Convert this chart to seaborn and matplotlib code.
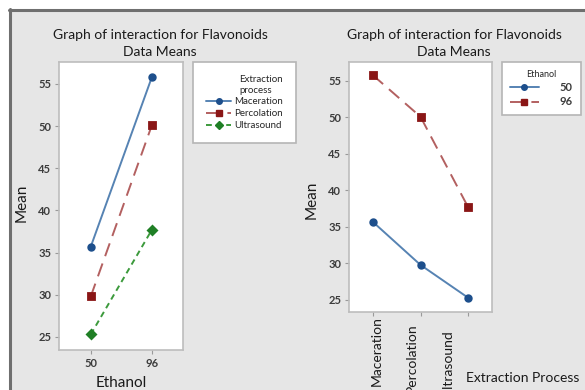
import matplotlib
matplotlib.use("Agg")
import matplotlib.pyplot as plt
import matplotlib.lines as mlines
import matplotlib.transforms as mtransforms
import numpy as np
import pandas as pd
import seaborn as sns

# Data means for flavonoids
ethanol_levels = ["50", "96"]
processes = ["Maceration", "Percolation", "Ultrasound"]
mean_50 = [35.7, 29.8, 25.3]
mean_96 = [55.8, 50.1, 37.7]
y_ticks = [25, 30, 35, 40, 45, 50, 55]

rows = []
for i, p in enumerate(processes):
    rows.append({"Ethanol": "50", "Process": p, "Mean": mean_50[i]})
    rows.append({"Ethanol": "96", "Process": p, "Mean": mean_96[i]})
df = pd.DataFrame(rows)

sns.set_theme(style="white")
plt.rcParams["font.family"] = ["Lato", "DejaVu Sans"]

proc_line = {"Maceration": "#5683b3", "Percolation": "#b36060", "Ultrasound": "#3c9a3c"}
proc_mark = {"Maceration": "#1d4f8c", "Percolation": "#8a1616", "Ultrasound": "#1f7f25"}
proc_style = {"Maceration": "-", "Percolation": (0, (7, 4)), "Ultrasound": (0, (3, 2.2))}
proc_marker = {"Maceration": "o", "Percolation": "s", "Ultrasound": "D"}
eth_line = {"50": "#5683b3", "96": "#b36060"}
eth_mark = {"50": "#1d4f8c", "96": "#8a1616"}
eth_style = {"50": "-", "96": (0, (7, 4))}
eth_marker = {"50": "o", "96": "s"}

W, H = 585, 390
fig = plt.figure(figsize=(W / 100, H / 100), dpi=100)
fig.patch.set_facecolor("white")

# panel background with a dark frame on top and left
fig.patches.append(plt.Rectangle((9 / W, 0), 1, 1 - 9 / H, transform=fig.transFigure,
                                 facecolor="#e6e6e6", edgecolor="none", zorder=-10))
fig.lines.append(mlines.Line2D([9 / W, 1], [1 - 10 / H, 1 - 10 / H], transform=fig.transFigure,
                               color="#6f6f6f", lw=2.2))
fig.lines.append(mlines.Line2D([10 / W, 10 / W], [0, 1 - 9 / H], transform=fig.transFigure,
                               color="#6f6f6f", lw=2.2))


def style_axes(ax):
    ax.set_facecolor("white")
    for s in ax.spines.values():
        s.set_color("#bdbdbd")
        s.set_linewidth(1.2)
    ax.tick_params(axis="both", which="both", length=3, width=0.8, color="#9a9a9a",
                   direction="out", left=True, bottom=True, pad=2.5)
    ax.set_yticks(y_ticks)
    for t in ax.get_yticklabels():
        t.set_fontsize(8)
        t.set_fontweight("bold")
        t.set_color("#3c3c3c")


def recolor(ax, order, line_c, mark_c, styles, markers):
    for line, key in zip(ax.lines, order):
        line.set_color(line_c[key])
        line.set_linestyle(styles[key])
        line.set_marker(markers[key])
        line.set_markerfacecolor(mark_c[key])
        line.set_markeredgecolor(mark_c[key])
        line.set_markersize(4 if markers[key] != "D" else 3.6)
        line.set_linewidth(1.4)


# ---- left panel: Ethanol on x, one line per extraction process
ax1 = fig.add_axes([59 / W, 1 - 350 / H, 124 / W, 288 / H])
sns.pointplot(data=df, x="Ethanol", y="Mean", hue="Process", order=ethanol_levels,
              hue_order=processes, errorbar=None, palette=proc_mark, ax=ax1, legend=False)
recolor(ax1, processes, proc_line, proc_mark, proc_style, proc_marker)
ax1.set_xlim(-0.52, 1.51)
ax1.set_ylim(23.45, 57.6)
style_axes(ax1)
ax1.set_xticks([0, 1])
ax1.set_xticklabels(ethanol_levels, fontsize=8, fontweight="bold", color="#3c3c3c")
ax1.tick_params(axis="x", pad=3)
ax1.set_xlabel("")
ax1.set_ylabel("")

# ---- right panel: extraction process on x, one line per ethanol level
ax2 = fig.add_axes([349 / W, 1 - 312 / H, 143 / W, 250 / H])
sns.pointplot(data=df, x="Process", y="Mean", hue="Ethanol", order=processes,
              hue_order=ethanol_levels, errorbar=None, palette=eth_mark, ax=ax2, legend=False)
recolor(ax2, ethanol_levels, eth_line, eth_mark, eth_style, eth_marker)
ax2.set_xlim(-0.5, 2.5)
ax2.set_ylim(23.35, 57.6)
style_axes(ax2)
ax2.set_xticks([0, 1, 2])
ax2.set_xticklabels(processes, rotation=90, fontsize=10, color="#1a1a1a", va="top")
ax2.tick_params(axis="x", pad=0)
# labels sit staggered and drawn together below the axis
for lab, dx, dy in zip(ax2.get_xticklabels(), [4, -9, -20], [0, 7, 13]):
    lab.set_transform(lab.get_transform() +
                      mtransforms.ScaledTranslation(dx / 100, -dy / 100, fig.dpi_scale_trans))
ax2.set_xlabel("")
ax2.set_ylabel("")

# titles and axis labels
for cx in (160, 454):
    fig.text(cx / W, 1 - 35 / H, "Graph of interaction for Flavonoids", ha="center",
             va="center", fontsize=10, color="#1a1a1a")
    fig.text(cx / W, 1 - 52 / H, "Data Means", ha="center", va="center", fontsize=10,
             color="#1a1a1a")
fig.text(22 / W, 1 - 203 / H, "Mean", rotation=90, ha="center", va="center", fontsize=11,
         color="#1a1a1a")
fig.text(312 / W, 1 - 200 / H, "Mean", rotation=90, ha="center", va="center", fontsize=11,
         color="#1a1a1a")
fig.text(121 / W, 1 - 383 / H, "Ethanol", ha="center", va="center", fontsize=11,
         color="#1a1a1a")
fig.text(523 / W, 1 - 378 / H, "Extraction Process", ha="center", va="center", fontsize=10,
         color="#1a1a1a")


def handle(line_c, mark_c, ls, mk):
    return mlines.Line2D([], [], color=line_c, ls=ls, lw=1.4, marker=mk,
                         markersize=4 if mk != "D" else 3.6,
                         markerfacecolor=mark_c, markeredgecolor=mark_c)


# left legend
h1 = [handle(proc_line[p], proc_mark[p], proc_style[p], proc_marker[p]) for p in processes]
leg1 = fig.legend(h1, processes, loc="upper left", bbox_to_anchor=(193 / W, 1 - 62 / H),
                  title="Extraction\nprocess", fontsize=7, title_fontsize=7, frameon=True,
                  handlelength=2.6, handletextpad=0.3, labelspacing=0.3, borderpad=1.35,
                  borderaxespad=0, fancybox=False, framealpha=1)
leg1.get_frame().set_edgecolor("#b5b5b5")
leg1.get_frame().set_linewidth(1.2)
leg1.get_title().set_ha("left")
leg1._legend_box.align = "right"

# right legend
h2 = [handle(eth_line[e], eth_mark[e], eth_style[e], eth_marker[e]) for e in ethanol_levels]
leg2 = fig.legend(h2, ethanol_levels, loc="upper left", bbox_to_anchor=(502 / W, 1 - 62 / H),
                  title="Ethanol", fontsize=8, title_fontsize=6.5, frameon=True,
                  handlelength=2.6, handletextpad=1.9, labelspacing=0.3, borderpad=0.7,
                  borderaxespad=0, fancybox=False, framealpha=1)
leg2.get_frame().set_edgecolor("#b5b5b5")
leg2.get_frame().set_linewidth(1.2)
for t in leg2.get_texts():
    t.set_fontweight("bold")
    t.set_color("#3c3c3c")

fig.savefig("out.png", dpi=100)
